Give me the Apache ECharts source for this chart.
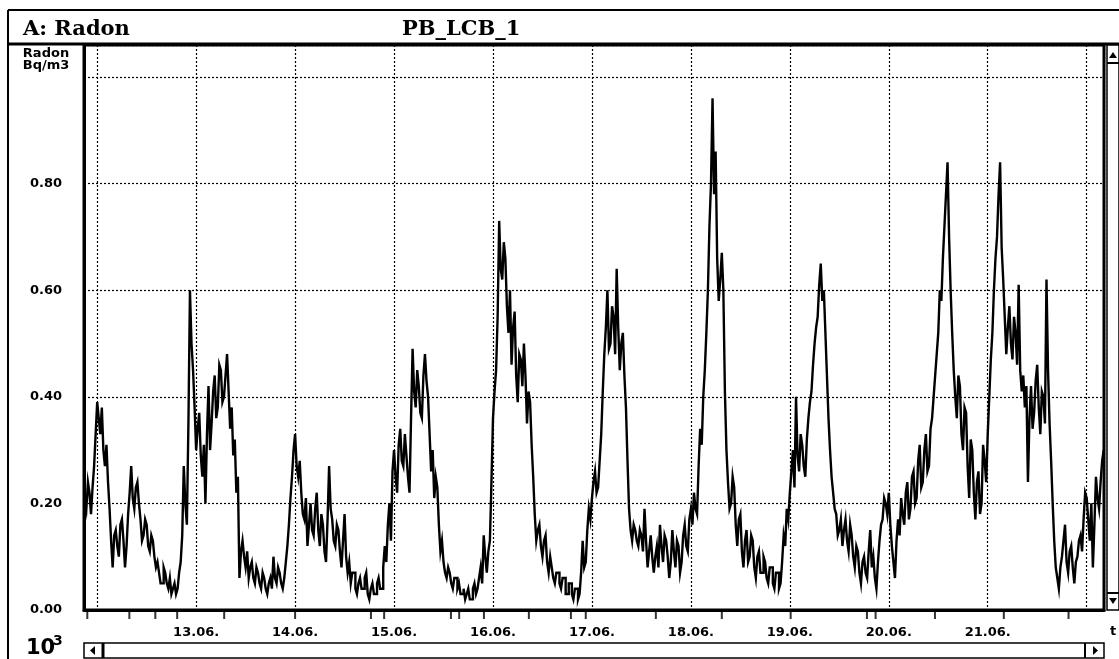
<!DOCTYPE html>
<html>
<head>
<meta charset="utf-8">
<title>A: Radon  PB_LCB_1</title>
<script src="https://cdn.jsdelivr.net/npm/echarts@6/dist/echarts.min.js"></script>
<style>
  html, body { margin: 0; padding: 0; background: #fff; }
  #chart { width: 1119px; height: 659px; }
</style>
</head>
<body>
<div id="chart"></div>
<script>
// Radon, Bq/m3 (x 10^3), one reading every 22.5 min
var HOUR = 3600 * 1000;
var dayStart = Date.UTC(2000, 5, 12); // 12.06. 00:00
var firstHour = -3;                   // first reading 11.06. 21:00
var stepHours = 0.375;

var jun11 = [0.21, 0.19, 0.24, 0.22, 0.18, 0.23, 0.27, 0.33];
var jun12 = [0.39, 0.36, 0.33, 0.38, 0.30, 0.27, 0.31, 0.24, 0.19, 0.13,
             0.08, 0.14, 0.15, 0.12, 0.10, 0.16, 0.17, 0.13, 0.08, 0.12,
             0.18, 0.22, 0.27, 0.21, 0.19, 0.23, 0.24, 0.20, 0.17, 0.13,
             0.14, 0.17, 0.16, 0.12, 0.11, 0.14, 0.13, 0.10, 0.08, 0.09,
             0.07, 0.05, 0.05, 0.08, 0.07, 0.05, 0.04, 0.06, 0.03, 0.04,
             0.05, 0.03, 0.04, 0.07, 0.09, 0.14, 0.27, 0.20, 0.16, 0.35,
             0.60, 0.50, 0.45, 0.38];
var jun13 = [0.30, 0.34, 0.37, 0.29, 0.25, 0.31, 0.20, 0.33, 0.42, 0.30,
             0.35, 0.41, 0.44, 0.36, 0.38, 0.46, 0.45, 0.39, 0.40, 0.44,
             0.48, 0.41, 0.34, 0.38, 0.29, 0.32, 0.22, 0.25, 0.06, 0.11,
             0.13, 0.10, 0.08, 0.11, 0.06, 0.08, 0.09, 0.06, 0.05, 0.08,
             0.07, 0.05, 0.04, 0.07, 0.06, 0.04, 0.03, 0.05, 0.06, 0.04,
             0.10, 0.06, 0.05, 0.08, 0.07, 0.05, 0.04, 0.06, 0.09, 0.12,
             0.16, 0.21, 0.25, 0.30];
var jun14 = [0.33, 0.27, 0.25, 0.28, 0.22, 0.18, 0.17, 0.21, 0.12, 0.16,
             0.20, 0.15, 0.14, 0.19, 0.22, 0.15, 0.12, 0.18, 0.16, 0.11,
             0.09, 0.17, 0.27, 0.19, 0.17, 0.13, 0.12, 0.16, 0.15, 0.11,
             0.08, 0.13, 0.18, 0.10, 0.07, 0.09, 0.05, 0.07, 0.07, 0.04,
             0.03, 0.05, 0.06, 0.04, 0.04, 0.06, 0.07, 0.03, 0.02, 0.04,
             0.05, 0.03, 0.03, 0.05, 0.06, 0.04, 0.04, 0.08, 0.12, 0.09,
             0.16, 0.20, 0.13, 0.26];
var jun15 = [0.30, 0.25, 0.22, 0.31, 0.34, 0.28, 0.27, 0.33, 0.29, 0.25,
             0.22, 0.36, 0.49, 0.41, 0.38, 0.45, 0.42, 0.37, 0.36, 0.44,
             0.48, 0.43, 0.40, 0.33, 0.26, 0.30, 0.21, 0.25, 0.23, 0.16,
             0.11, 0.13, 0.09, 0.07, 0.06, 0.08, 0.07, 0.05, 0.04, 0.06,
             0.06, 0.04, 0.05, 0.03, 0.03, 0.04, 0.02, 0.03, 0.04, 0.02,
             0.02, 0.04, 0.05, 0.03, 0.04, 0.06, 0.08, 0.05, 0.14, 0.10,
             0.07, 0.11, 0.13, 0.24];
var jun16 = [0.36, 0.41, 0.45, 0.55, 0.73, 0.64, 0.62, 0.69, 0.66, 0.57,
             0.52, 0.60, 0.46, 0.53, 0.56, 0.44, 0.39, 0.48, 0.47, 0.42,
             0.50, 0.44, 0.35, 0.41, 0.39, 0.31, 0.25, 0.18, 0.13, 0.15,
             0.16, 0.12, 0.10, 0.13, 0.14, 0.09, 0.07, 0.10, 0.08, 0.06,
             0.05, 0.07, 0.07, 0.05, 0.04, 0.06, 0.06, 0.03, 0.03, 0.05,
             0.05, 0.03, 0.02, 0.04, 0.04, 0.02, 0.03, 0.07, 0.13, 0.08,
             0.09, 0.15, 0.19, 0.17];
var jun17 = [0.21, 0.24, 0.26, 0.22, 0.23, 0.28, 0.33, 0.41, 0.48, 0.53,
             0.60, 0.49, 0.50, 0.57, 0.55, 0.48, 0.64, 0.53, 0.45, 0.50,
             0.52, 0.44, 0.38, 0.28, 0.19, 0.15, 0.13, 0.16, 0.15, 0.13,
             0.12, 0.15, 0.14, 0.11, 0.19, 0.13, 0.08, 0.11, 0.14, 0.10,
             0.07, 0.10, 0.12, 0.08, 0.16, 0.12, 0.09, 0.14, 0.13, 0.10,
             0.06, 0.09, 0.15, 0.11, 0.08, 0.13, 0.12, 0.07, 0.09, 0.14,
             0.16, 0.12, 0.11, 0.17];
var jun18 = [0.19, 0.16, 0.22, 0.19, 0.18, 0.27, 0.34, 0.31, 0.40, 0.45,
             0.52, 0.60, 0.72, 0.80, 0.96, 0.78, 0.86, 0.66, 0.58, 0.62,
             0.67, 0.60, 0.41, 0.30, 0.24, 0.19, 0.20, 0.25, 0.23, 0.16,
             0.12, 0.17, 0.18, 0.11, 0.08, 0.13, 0.15, 0.09, 0.10, 0.14,
             0.13, 0.08, 0.06, 0.10, 0.11, 0.07, 0.07, 0.10, 0.09, 0.06,
             0.05, 0.08, 0.08, 0.05, 0.04, 0.07, 0.07, 0.04, 0.05, 0.09,
             0.14, 0.12, 0.19, 0.17];
var jun19 = [0.22, 0.26, 0.30, 0.23, 0.40, 0.29, 0.26, 0.33, 0.31, 0.27,
             0.25, 0.32, 0.36, 0.39, 0.41, 0.46, 0.50, 0.53, 0.55, 0.61,
             0.65, 0.58, 0.60, 0.52, 0.44, 0.36, 0.30, 0.25, 0.22, 0.19,
             0.18, 0.14, 0.15, 0.17, 0.12, 0.15, 0.17, 0.13, 0.11, 0.16,
             0.14, 0.10, 0.08, 0.12, 0.11, 0.07, 0.05, 0.09, 0.10, 0.07,
             0.06, 0.11, 0.15, 0.08, 0.10, 0.06, 0.04, 0.09, 0.13, 0.16,
             0.17, 0.21, 0.20, 0.18];
var jun20 = [0.22, 0.16, 0.12, 0.09, 0.06, 0.13, 0.17, 0.14, 0.21, 0.18,
             0.16, 0.22, 0.24, 0.17, 0.19, 0.25, 0.26, 0.20, 0.21, 0.28,
             0.31, 0.23, 0.24, 0.30, 0.33, 0.26, 0.27, 0.34, 0.36, 0.40,
             0.44, 0.48, 0.52, 0.60, 0.58, 0.66, 0.72, 0.78, 0.84, 0.70,
             0.60, 0.52, 0.45, 0.40, 0.36, 0.44, 0.42, 0.33, 0.30, 0.38,
             0.37, 0.27, 0.21, 0.32, 0.30, 0.22, 0.17, 0.24, 0.26, 0.18,
             0.20, 0.31, 0.28, 0.24];
var jun21 = [0.33, 0.40, 0.47, 0.52, 0.60, 0.66, 0.70, 0.78, 0.84, 0.68,
             0.62, 0.55, 0.48, 0.53, 0.57, 0.50, 0.47, 0.55, 0.52, 0.46,
             0.61, 0.45, 0.41, 0.44, 0.38, 0.42, 0.24, 0.36, 0.42, 0.34,
             0.37, 0.43, 0.46, 0.38, 0.33, 0.41, 0.40, 0.35, 0.62, 0.45,
             0.35, 0.28, 0.20, 0.13, 0.08, 0.06, 0.04, 0.08, 0.10, 0.13,
             0.16, 0.09, 0.07, 0.11, 0.12, 0.08, 0.05, 0.09, 0.10, 0.13,
             0.14, 0.11, 0.17, 0.22];
var jun22 = [0.21, 0.17, 0.13, 0.20, 0.08, 0.16, 0.25, 0.21, 0.19, 0.24,
             0.28, 0.30];

// marks under the time axis (hours after 12.06. 00:00)
var markHours = [-2.4, 7.8, 14.1, 19.4, 30.8, 48.0, 66.4, 69.6, 85.8, 87.8,
                 93.8, 104.7, 114.9, 118.5, 135.5, 151.5, 168.2, 186.7, 188.8,
                 203.2, 219.9, 235.6];

var yTicks = [0, 0.2, 0.4, 0.6, 0.8];

var readings = [].concat(jun11, jun12, jun13, jun14, jun15, jun16, jun17,
                         jun18, jun19, jun20, jun21, jun22);
var radon = readings.map(function (v, i) {
  return [dayStart + (firstHour + i * stepHours) * HOUR, v];
});
var marks = markHours.map(function (h) {
  return [dayStart + h * HOUR, 0];
});

function pad(n) { return (n < 10 ? '0' : '') + n; }

var labelFont = { fontFamily: 'DejaVu Sans', fontWeight: 'bold', fontSize: 13, color: '#000' };
var titleFont = { fontFamily: 'DejaVu Serif', fontWeight: 'bold', fontSize: 21, fill: '#000' };

var chart = echarts.init(document.getElementById('chart'));
var option = {
  animation: false,
  useUTC: true,
  backgroundColor: '#fff',
  grid: {
    left: 84, right: 15, top: 45, bottom: 49,
    show: true, borderColor: '#000', borderWidth: 3, backgroundColor: '#fff'
  },
  xAxis: {
    type: 'time',
    min: dayStart - 3.2 * HOUR,
    max: dayStart + 244.2 * HOUR,
    minInterval: 24 * HOUR,
    maxInterval: 24 * HOUR,
    axisLine: { show: true, lineStyle: { color: '#000', width: 3 } },
    axisTick: { show: false },
    splitLine: { show: true, lineStyle: { color: '#000', width: 1.2, type: [2, 2] } },
    axisLabel: Object.assign({
      margin: 16,
      showMinLabel: false,
      showMaxLabel: false,
      hideOverlap: false,
      formatter: function (val) {
        var d = new Date(val);
        var day = d.getUTCDate();
        if (day === 12 || day === 22) return '';
        return pad(day) + '.' + pad(d.getUTCMonth() + 1) + '.';
      }
    }, labelFont)
  },
  yAxis: {
    type: 'value',
    min: 0,
    max: 1.06,
    interval: 0.2,
    axisLine: { show: true, lineStyle: { color: '#000', width: 3 } },
    axisTick: { show: false },
    splitLine: { show: true, lineStyle: { color: '#000', width: 1.2, type: [2, 2] } },
    axisLabel: Object.assign({
      margin: 22,
      showMaxLabel: false,
      formatter: function (v) {
        if (yTicks.indexOf(Math.round(v * 10) / 10) < 0) return '';
        return v.toFixed(2);
      }
    }, labelFont)
  },
  series: [
    {
      name: 'Radon',
      type: 'line',
      step: 'end',
      data: radon,
      showSymbol: false,
      lineStyle: { color: '#000', width: 2.4, join: 'miter' },
      z: 3
    },
    {
      name: 'marks',
      type: 'scatter',
      data: marks,
      symbol: 'rect',
      symbolSize: [2, 8],
      symbolOffset: [0, 5],
      itemStyle: { color: '#000' },
      clip: false,
      silent: true,
      z: 4
    }
  ],
  graphic: [
    // window frame and title bar
    { type: 'line', shape: { x1: 8, y1: 10, x2: 1119, y2: 10 }, style: { stroke: '#000', lineWidth: 2 } },
    { type: 'line', shape: { x1: 8, y1: 10, x2: 8, y2: 659 }, style: { stroke: '#000', lineWidth: 2 } },
    { type: 'line', shape: { x1: 8, y1: 44, x2: 1119, y2: 44 }, style: { stroke: '#000', lineWidth: 3 } },
    { type: 'text', left: 23, top: 19, style: Object.assign({ text: 'A: Radon' }, titleFont) },
    { type: 'text', left: 402, top: 19, style: Object.assign({ text: 'PB_LCB_1' }, titleFont) },
    // unit label
    { type: 'text', x: 46, y: 48, style: { text: 'Radon\nBq/m3', align: 'center', fontFamily: 'DejaVu Sans', fontWeight: 'bold', fontSize: 13, lineHeight: 12, fill: '#000' } },
    // exponent and time axis name
    { type: 'text', left: 26, top: 638, style: { text: '10', fontFamily: 'DejaVu Sans', fontWeight: 'bold', fontSize: 21, fill: '#000' } },
    { type: 'text', left: 53, top: 634, style: { text: '3', fontFamily: 'DejaVu Sans', fontWeight: 'bold', fontSize: 14, fill: '#000' } },
    { type: 'text', left: 1110, top: 625, style: { text: 't', fontFamily: 'DejaVu Sans', fontWeight: 'bold', fontSize: 13, fill: '#000' } },
    // right scroll bar
    { type: 'rect', shape: { x: 1107, y: 45, width: 12, height: 565 }, style: { fill: '#fff', stroke: '#000', lineWidth: 1.5 } },
    { type: 'line', shape: { x1: 1107, y1: 63, x2: 1119, y2: 63 }, style: { stroke: '#000', lineWidth: 2 } },
    { type: 'line', shape: { x1: 1107, y1: 593, x2: 1119, y2: 593 }, style: { stroke: '#000', lineWidth: 2 } },
    { type: 'polygon', shape: { points: [[1109, 58], [1113, 52], [1117, 58]] }, style: { fill: '#000' } },
    { type: 'polygon', shape: { points: [[1109, 598], [1117, 598], [1113, 604]] }, style: { fill: '#000' } },
    // bottom scroll bar
    { type: 'rect', shape: { x: 84, y: 643, width: 1020, height: 15 }, style: { fill: '#fff', stroke: '#000', lineWidth: 1.5 } },
    { type: 'line', shape: { x1: 103, y1: 643, x2: 103, y2: 658 }, style: { stroke: '#000', lineWidth: 3 } },
    { type: 'line', shape: { x1: 1085, y1: 643, x2: 1085, y2: 658 }, style: { stroke: '#000', lineWidth: 2 } },
    { type: 'polygon', shape: { points: [[95, 646], [95, 655], [90, 650.5]] }, style: { fill: '#000' } },
    { type: 'polygon', shape: { points: [[1093, 646], [1093, 655], [1098, 650.5]] }, style: { fill: '#000' } }
  ]
};
chart.setOption(option);
</script>
</body>
</html>
